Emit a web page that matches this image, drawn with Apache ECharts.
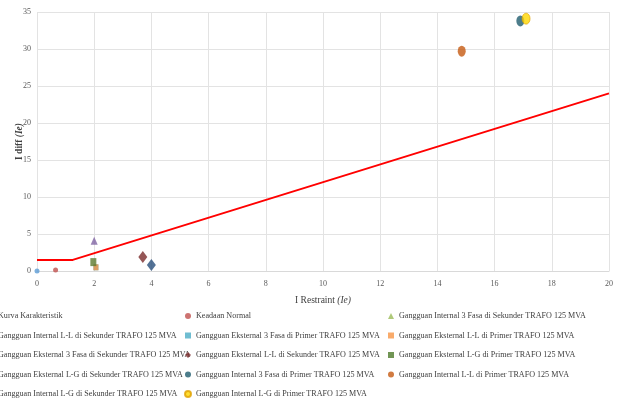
<!DOCTYPE html>
<html><head><meta charset="utf-8">
<script src="https://cdn.jsdelivr.net/npm/echarts@6/dist/echarts.min.js"></script>
<style>html,body{margin:0;padding:0;background:#fff}#c{width:618px;height:406px}</style>
</head><body><div id="c"></div>
<script>
// Characteristic curve (I restraint, I diff)
const curveX = [0, 1.25, 20];
const curveY = [1.5, 1.5, 24];

const xTicks = [0, 2, 4, 6, 8, 10, 12, 14, 16, 18, 20];
const yTicks = [0, 5, 10, 15, 20, 25, 30, 35];

const seriesNames = [
  'Kurva Karakteristik',
  'Keadaan Normal',
  'Gangguan Internal 3 Fasa di Sekunder TRAFO 125 MVA',
  'Gangguan Internal L-L di Sekunder TRAFO 125 MVA',
  'Gangguan Eksternal 3 Fasa di Primer TRAFO 125 MVA',
  'Gangguan Eksternal L-L di Primer TRAFO 125 MVA',
  'Gangguan Eksternal 3 Fasa di Sekunder TRAFO 125 MVA',
  'Gangguan Eksternal L-L di Sekunder TRAFO 125 MVA',
  'Gangguan Eksternal L-G di Primer TRAFO 125 MVA',
  'Gangguan Eksternal L-G di Sekunder TRAFO 125 MVA',
  'Gangguan Internal 3 Fasa di Primer TRAFO 125 MVA',
  'Gangguan Internal L-L di Primer TRAFO 125 MVA',
  'Gangguan Internal L-G di Sekunder TRAFO 125 MVA',
  'Gangguan Internal L-G di Primer TRAFO 125 MVA'
];
// point values [I restraint, I diff] per scatter series (index 1..13)
const pointX = [null, 0.65, 2.0, null, 2.06, 2.06, 4.0, 3.7, 1.97, 0.0, 16.9, 14.85, null, 17.1];
const pointY = [null, 0.12, 4.1, null, 0.5, 0.5, 0.8, 1.9, 1.2, 0.0, 33.8, 29.7, null, 34.1];

const colors = [null, '#c0504d', '#8064a2', '#4f81bd', '#4bacc6', '#f79646', '#284f7c', '#7b2c2c', '#5e7a2e', '#5b9bd5', '#215d6e', '#c55a11', '#9bbb59', '#ffd700'];
const legendColors = [null, '#c0504d', '#9bbb59', '#4f81bd', '#4bacc6', '#f79646', '#284f7c', '#7b2c2c', '#4e7a2a', '#5b9bd5', '#215d6e', '#c55a11', '#9bbb59', '#ffd700'];
const symbols = [null, 'circle', 'triangle', 'circle', 'rect', 'rect', 'diamond', 'diamond', 'rect', 'circle', 'circle', 'circle', 'circle', 'circle'];
const sizes = [null, [5,5], [7,8], [6,6], [5,6], [5,6], [9,12], [9,12], [6,8], [5,5], [8,11], [8,11], [6,6], [8,11]];

const font = 'Liberation Serif';
const series = [{
  name: seriesNames[0], type: 'line', showSymbol: false, symbol: 'none',
  data: curveX.map((x, i) => [x, curveY[i]]),
  lineStyle: { color: '#ff0000', width: 2 }, itemStyle: { color: '#ff0000' }, z: 3
}];
for (let i = 1; i < seriesNames.length; i++) {
  series.push({
    name: seriesNames[i], type: 'scatter', symbol: symbols[i], symbolSize: sizes[i],
    data: pointX[i] === null ? [] : [[pointX[i], pointY[i]]],
    itemStyle: { color: colors[i], borderColor: i === 13 ? '#e0a000' : colors[i], borderWidth: i === 13 ? 0.8 : 0 },
    z: 4
  });
}
function legendData(idx) {
  return idx.map(i => i === 0 ? { name: seriesNames[0], icon: 'rect', itemStyle: { color: '#ff0000' } } :
    { name: seriesNames[i], icon: symbols[i], itemStyle: { color: legendColors[i] } });
}
const legendBase = {
  orient: 'vertical', top: 310, bottom: 0, padding: 0, itemWidth: 6, itemHeight: 6, itemGap: 7.5,
  textStyle: { fontFamily: font, fontSize: 8.1, color: '#404040', lineHeight: 12 },
  selectedMode: false
};
const option = {
  animation: false,
  backgroundColor: '#fff',
  textStyle: { fontFamily: font },
  grid: { left: 37, right: 9, top: 12, bottom: 135, containLabel: false },
  legend: [
    Object.assign({}, legendBase, { left: -13, data: legendData([0, 3, 6, 9, 12]) }),
    Object.assign({}, legendBase, { left: 184, data: legendData([1, 4, 7, 10, 13]) }),
    Object.assign({}, legendBase, { left: 388, data: legendData([2, 5, 8, 11]) })
  ],
  xAxis: {
    type: 'value', min: xTicks[0], max: xTicks[xTicks.length - 1], interval: 2,
    name: '{a|I Restraint }{b|(Ie)}', nameLocation: 'middle', nameGap: 24,
    nameTextStyle: { rich: { a: { fontFamily: font, fontSize: 9.5, color: '#404040' }, b: { fontFamily: font, fontSize: 9.5, color: '#404040', fontStyle: 'italic' } } },
    axisLine: { show: true, lineStyle: { color: '#d9d9d9' } },
    axisTick: { show: false },
    axisLabel: { fontFamily: font, fontSize: 8, color: '#595959', margin: 9 },
    splitLine: { show: true, lineStyle: { color: '#e3e3e3' } }
  },
  yAxis: {
    type: 'value', min: yTicks[0], max: yTicks[yTicks.length - 1], interval: 5,
    name: '{a|I diff }{b|(Ie)}', nameLocation: 'middle', nameGap: 12, nameRotate: 90,
    nameMoveOverlap: false,
    nameTextStyle: { rich: { a: { fontFamily: font, fontSize: 9.5, color: '#404040', fontWeight: 'bold' }, b: { fontFamily: font, fontSize: 9.5, color: '#404040', fontStyle: 'italic', fontWeight: 'bold' } } },
    axisLine: { show: false },
    axisTick: { show: false },
    axisLabel: { fontFamily: font, fontSize: 8, color: '#595959', margin: 6 },
    splitLine: { show: true, lineStyle: { color: '#e3e3e3' } }
  },
  series: series
};
const chart = echarts.init(document.getElementById('c'), null, { renderer: 'canvas' });
chart.setOption(option);
</script></body></html>
